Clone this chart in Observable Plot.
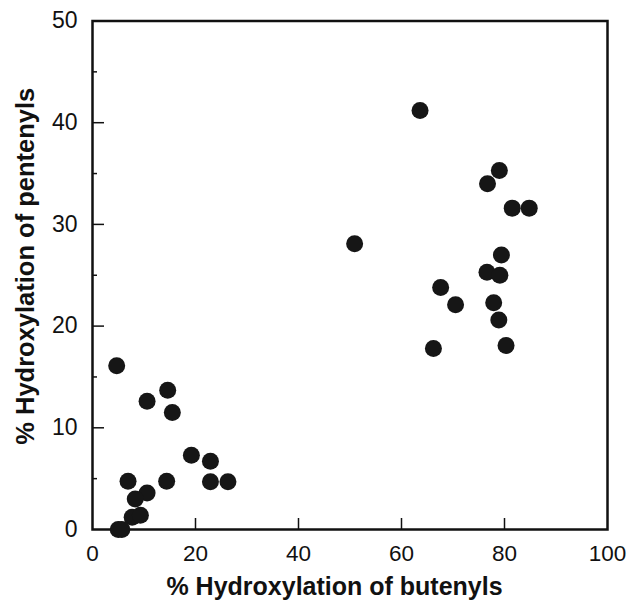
<!DOCTYPE html>
<html>
<head>
<meta charset="utf-8">
<script src="https://cdn.jsdelivr.net/npm/d3@7"></script>
<script src="https://cdn.jsdelivr.net/npm/@observablehq/plot@0.6"></script>
<style>
  html, body { margin: 0; padding: 0; background: #fff; }
  svg { display: block; }
</style>
</head>
<body>
<div id="chart"></div>
<script>
// % hydroxylation of butenyls (x) vs pentenyls (y)
const butenyls = [
  63.6, 79.0, 76.7, 81.5, 84.8, 50.9, 79.4, 76.6, 79.1, 67.6, 70.5, 77.9, 78.9, 66.2, 80.3,
  4.7, 10.6, 14.6, 15.5, 19.2, 22.9, 6.9, 14.4, 22.9, 26.3, 10.6, 8.3, 7.7, 9.3, 5.0, 5.7
];
const pentenyls = [
  41.2, 35.3, 34.0, 31.6, 31.6, 28.1, 27.0, 25.3, 25.0, 23.8, 22.1, 22.3, 20.6, 17.8, 18.1,
  16.1, 12.6, 13.7, 11.5, 7.3, 6.7, 4.75, 4.75, 4.7, 4.7, 3.6, 3.0, 1.2, 1.4, 0, 0
];
const xTicks = [0, 20, 40, 60, 80, 100];
const xInnerTicks = [20, 40, 60, 80];
const yTicks = [0, 10, 20, 30, 40, 50];
const yInnerTicks = [10, 20, 30, 40];
const yMinorTicks = [5, 15, 25, 35, 45];
const xTitle = "% Hydroxylation of butenyls";
const yTitle = "% Hydroxylation of pentenyls";

const points = butenyls.map((b, i) => ({b, p: pentenyls[i]}));

const chart = Plot.plot({
  width: 628,
  height: 601,
  marginLeft: 92,
  marginRight: 21,
  marginTop: 20.5,
  marginBottom: 72,
  style: {fontFamily: "'Liberation Sans', Arial, sans-serif", background: "#fff", color: "#111"},
  x: {domain: [0, 100]},
  y: {domain: [0, 50]},
  marks: [
    // tick labels
    Plot.axisX({ticks: xTicks, tickSize: 0, tickPadding: 16, fontSize: 22.5, label: null, tickFormat: d => String(d)}),
    Plot.axisY({ticks: yTicks, tickSize: 0, tickPadding: 15, fontSize: 23, label: null, tickFormat: d => String(d)}),
    // inward ticks
    Plot.axisX({ticks: xInnerTicks, tickSize: -11, text: null, label: null, strokeWidth: 1.5}),
    Plot.axisY({ticks: yInnerTicks, tickSize: -12, text: null, label: null, strokeWidth: 1.5}),
    Plot.axisY({ticks: yMinorTicks, tickSize: -5, text: null, label: null, strokeWidth: 1.5}),
    Plot.frame({stroke: "#111", strokeWidth: 2.5}),
    Plot.dot(points, {x: "b", y: "p", r: 8.5, fill: "#161616", stroke: "none", clip: false}),
    Plot.text([xTitle], {frameAnchor: "bottom", text: d => d, textAnchor: "middle", dx: -15.5, dy: 65, lineAnchor: "bottom",
      fontSize: 25, fontWeight: "bold", fill: "#111"}),
    Plot.text([yTitle], {frameAnchor: "left", text: d => d, textAnchor: "middle", rotate: -90, dx: -59, dy: -9, lineAnchor: "bottom",
      fontSize: 25.5, fontWeight: "bold", fill: "#111"})
  ]
});
document.getElementById("chart").appendChild(chart);
</script>
</body>
</html>
